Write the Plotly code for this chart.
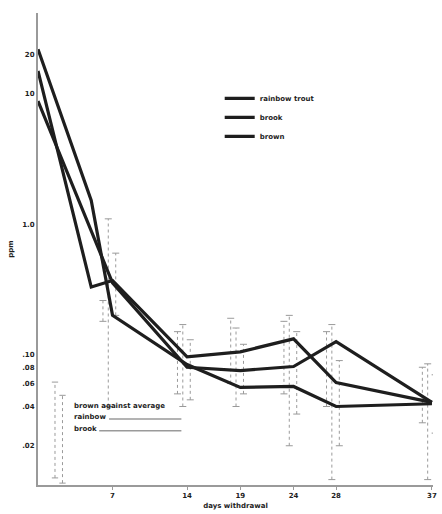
import plotly.graph_objects as go

# Residue level (log scale) against days of withdrawal for three trout species
days_rainbow = [0, 5, 7, 14, 19, 24, 28, 37]
res_rainbow = [22.0, 1.52, 0.20, 0.084, 0.056, 0.057, 0.040, 0.042]

days_brook = [0, 5, 7, 14, 19, 24, 28, 37]
res_brook = [15.0, 0.33, 0.37, 0.096, 0.105, 0.132, 0.061, 0.043]

days_brown = [0, 7, 14, 19, 24, 28, 37]
res_brown = [8.8, 0.355, 0.080, 0.0755, 0.081, 0.126, 0.043]

# Spread (low / high) at the sampled withdrawal days
err_days = [7, 14, 19, 24, 28, 37]
rainbow_lo = [0.040, 0.040, 0.040, 0.020, 0.011, 0.011]
rainbow_hi = [1.10, 0.17, 0.16, 0.20, 0.17, 0.085]
brook_lo = [0.18, 0.050, 0.060, 0.050, 0.040, 0.030]
brook_hi = [0.26, 0.15, 0.19, 0.18, 0.15, 0.080]
brown_lo = [0.20, 0.045, 0.050, 0.035, 0.020, 0.025]
brown_hi = [0.60, 0.13, 0.12, 0.15, 0.09, 0.070]

x_ticks = [7, 14, 19, 24, 28, 37]
y_ticks = [20, 10, 1.0, 0.10, 0.08, 0.06, 0.04, 0.02]
y_tick_text = ["20", "10", "1.0", ".10", ".08", ".06", ".04", ".02"]

INK = "#1e1e1e"
GREY = "#9a9a9a"
FONT = dict(family="DejaVu Sans", size=7, color=INK, weight="bold")

fig = go.Figure()

# dotted range bars, nudged sideways so the three species do not overlap
for lo, hi, nudge in [(rainbow_lo, rainbow_hi, -0.4), (brook_lo, brook_hi, -0.9), (brown_lo, brown_hi, 0.3)]:
    xs, ys = [], []
    cx, cy = [], []
    for d, a, b in zip(err_days, lo, hi):
        xs += [d + nudge, d + nudge, None]
        ys += [a, b, None]
        cx += [d + nudge, d + nudge]
        cy += [a, b]
    fig.add_trace(go.Scatter(x=xs, y=ys, mode="lines", showlegend=False, hoverinfo="skip",
                             line=dict(color=GREY, width=1, dash="dot")))
    fig.add_trace(go.Scatter(x=cx, y=cy, mode="markers", showlegend=False, hoverinfo="skip",
                             marker=dict(symbol="line-ew", size=5, line=dict(color=GREY, width=1))))

for name, d, r in [("rainbow trout", days_rainbow, res_rainbow),
                   ("brook", days_brook, res_brook),
                   ("brown", days_brown, res_brown)]:
    fig.add_trace(go.Scatter(x=d, y=r, mode="lines", name=name, legendgroup=name,
                             line=dict(color=INK, width=3.2)))

# key for the range bars, lower left
bar_key = [("brown against average", 0.167, None),
           ("rainbow", 0.144, 0.18),
           ("brook", 0.119, 0.155)]
for label, yp, x0 in bar_key:
    fig.add_annotation(x=0.085, y=yp, xref="paper", yref="paper", text=label, showarrow=False,
                       xanchor="left", yanchor="middle", font=FONT)
    if x0 is not None:
        fig.add_shape(type="line", xref="paper", yref="paper", x0=x0, x1=0.363,
                      y0=yp - 0.004, y1=yp - 0.004, line=dict(color=GREY, width=1.5))
for xp, y0, y1 in [(0.043, 0.015, 0.218), (0.062, 0.004, 0.19)]:
    fig.add_shape(type="line", xref="paper", yref="paper", x0=xp, x1=xp, y0=y0, y1=y1,
                  line=dict(color=GREY, width=1, dash="dot"))
    for yy in (y0, y1):
        fig.add_shape(type="line", xref="paper", yref="paper", x0=xp - 0.008, x1=xp + 0.008,
                      y0=yy, y1=yy, line=dict(color=GREY, width=1))

fig.update_layout(
    width=442, height=514,
    margin=dict(l=38, r=5, t=13, b=29),
    paper_bgcolor="white", plot_bgcolor="white",
    font=FONT,
    legend=dict(x=0.46, y=0.85, xanchor="left", yanchor="top", bgcolor="rgba(0,0,0,0)",
                font=FONT, itemwidth=30, tracegroupgap=0),
    xaxis=dict(range=[0, 37.1], tickvals=x_ticks, ticks="outside", ticklen=3,
               tickcolor=GREY, showline=True, linecolor=GREY, linewidth=2,
               showgrid=False, zeroline=False,
               title=dict(text="days withdrawal", font=FONT, standoff=4)),
    yaxis=dict(type="log", range=[-2.0, 1.62], tickvals=y_ticks, ticktext=y_tick_text,
               ticks="", showline=True, linecolor=GREY, linewidth=2,
               showgrid=False, zeroline=False,
               title=dict(text="ppm", font=FONT, standoff=8)),
)

fig.write_html("out.html")
